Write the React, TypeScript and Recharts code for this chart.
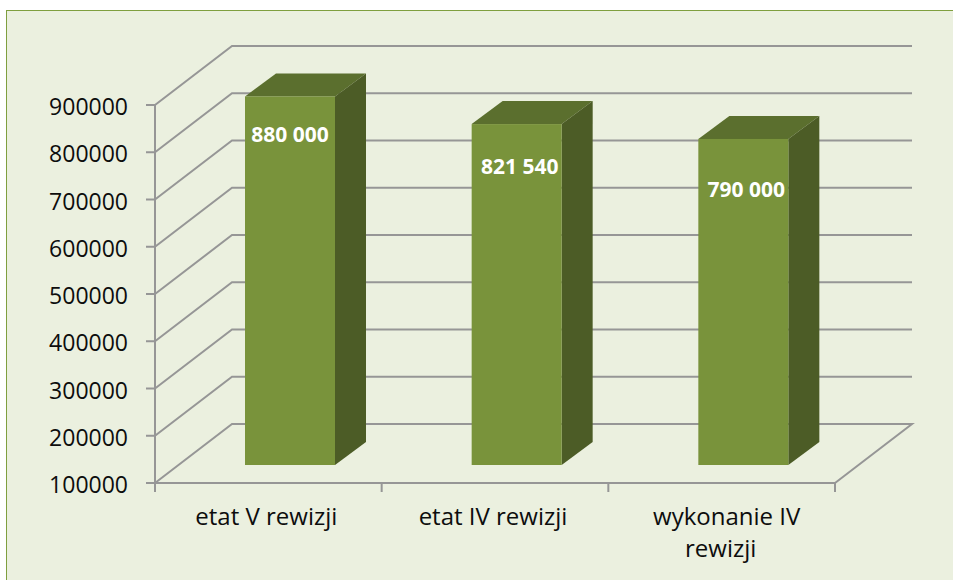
import React from "react";
import { BarChart, Bar, XAxis, YAxis, CartesianGrid, LabelList } from "recharts";

const categories = ["etat V rewizji", "etat IV rewizji", "wykonanie IV rewizji"];
const categoryLines = [["etat V rewizji"], ["etat IV rewizji"], ["wykonanie IV", "rewizji"]];
const values = [880000, 821540, 790000];
const yTicks = [100000, 200000, 300000, 400000, 500000, 600000, 700000, 800000, 900000];

const labelDrops = [46, 50, 58];
const labelShifts = [0, 3, 3];
const lineShifts = [[-2], [-2], [5, -1]];

const data = categories.map((name, i) => ({ name, value: values[i] }));

const CHART_W = 953;
const CHART_H = 580;
const X_AXIS_H = 97;
const Y_AXIS_W = 155;
const margin = { top: 105, right: 118, bottom: 0, left: 0 };
const axisY = CHART_H - X_AXIS_H;
const bandWidth = (CHART_W - margin.right - Y_AXIS_W) / categories.length;

// 3D look: back wall offset and where the bars stand on the floor
const wallDx = 77;
const wallDy = -59;
const barDx = 22;
const barDy = -18;
const depthDx = 31;
const depthDy = -23;

const gridColor = "#969696";
const textColor = "#0d0d0d";
const font = "'Open Sans', sans-serif";

const renderGridLine = (props: any) => {
  const { x1, x2, y1, key } = props;
  const isFloor = Math.abs(y1 - axisY) < 0.5;
  const wall = `M${x1},${y1} L${x1 + wallDx},${y1 + wallDy} L${x2 + wallDx},${y1 + wallDy}`;
  const d = isFloor ? `${wall} L${x2},${y1}` : wall;
  return <path key={key ?? y1} d={d} fill="none" stroke={gridColor} strokeWidth={2} />;
};

const Bar3D = (props: any) => {
  const { x, y, width, height } = props;
  const left = x + barDx;
  const top = y + barDy;
  const right = left + width;
  const bottom = top + height;
  return (
    <g>
      <path
        d={`M${left},${top} L${left + depthDx},${top + depthDy} L${right + depthDx},${top + depthDy} L${right},${top} Z`}
        fill="#5b6f2e"
      />
      <path
        d={`M${right},${top} L${right + depthDx},${top + depthDy} L${right + depthDx},${bottom + depthDy} L${right},${bottom} Z`}
        fill="#4c5c26"
      />
      <rect x={left} y={top} width={width} height={height} fill="#79933b" />
    </g>
  );
};

const formatValue = (v: number) => String(v).replace(/\B(?=(\d{3})+$)/g, " ");

const BarLabel = (props: any) => {
  const { x, y, width, value, index } = props;
  return (
    <text
      x={x + barDx + width / 2 + labelShifts[index]}
      y={y + barDy + labelDrops[index]}
      textAnchor="middle"
      fill="#ffffff"
      fontFamily={font}
      fontWeight={700}
      fontSize={21}
    >
      {formatValue(value)}
    </text>
  );
};

const CategoryTick = (props: any) => {
  const { x, index } = props;
  const last = index === categories.length - 1;
  return (
    <g>
      <line x1={x - bandWidth / 2} x2={x - bandWidth / 2} y1={axisY} y2={axisY + 9} stroke={gridColor} strokeWidth={2} />
      {last && <line x1={x + bandWidth / 2} x2={x + bandWidth / 2} y1={axisY} y2={axisY + 9} stroke={gridColor} strokeWidth={2} />}
      <text textAnchor="middle" fill={textColor} fontFamily={font} fontSize={24}>
        {categoryLines[index].map((line, i) => (
          <tspan key={line} x={x + lineShifts[index][i]} y={axisY + 42 + i * 32}>
            {line}
          </tspan>
        ))}
      </text>
    </g>
  );
};

export default function App() {
  return (
    <div
      style={{
        position: "fixed",
        left: 0,
        top: 0,
        width: CHART_W,
        height: CHART_H,
        overflow: "hidden",
        background: "#ffffff",
      }}
    >
      <div
        style={{
          position: "absolute",
          left: 6,
          top: 10,
          right: -4,
          bottom: -4,
          background: "#ebf0df",
          border: "1.5px solid #7f9f3f",
        }}
      />
      <div style={{ position: "absolute", left: 0, top: 0 }}>
        <BarChart width={CHART_W} height={CHART_H} data={data} margin={margin} barSize={90}>
          <CartesianGrid horizontal={renderGridLine} vertical={false} />
          <XAxis
            dataKey="name"
            interval={0}
            height={X_AXIS_H}
            tick={<CategoryTick />}
            tickLine={false}
            axisLine={{ stroke: gridColor, strokeWidth: 2 }}
          />
          <YAxis
            type="number"
            width={Y_AXIS_W}
            domain={[100000, 900000]}
            ticks={yTicks}
            interval={0}
            tickSize={9}
            tickMargin={18}
            tick={{ fill: textColor, fontFamily: font, fontSize: 23, dy: 2 }}
            tickLine={{ stroke: gridColor, strokeWidth: 2 }}
            axisLine={{ stroke: gridColor, strokeWidth: 2 }}
          />
          <Bar dataKey="value" shape={<Bar3D />} isAnimationActive={false}>
            <LabelList dataKey="value" content={<BarLabel />} />
          </Bar>
        </BarChart>
      </div>
    </div>
  );
}
